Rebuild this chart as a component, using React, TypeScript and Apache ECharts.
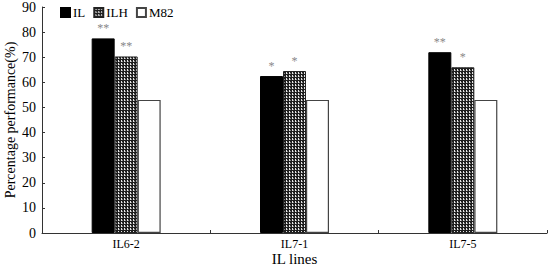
import React, { useEffect, useRef } from "react";
import * as echarts from "echarts";

const categories = ["IL6-2", "IL7-1", "IL7-5"];
const ilValues = [77.5, 62.5, 72];
const ilhValues = [70.3, 64.5, 66];
const m82Values = [53, 53, 53];
const ilSig = ["**", "*", "**"];
const ilhSig = ["**", "*", "*"];
const yTicks = { min: 0, max: 90, interval: 10 };

const FONT = "Liberation Serif";

function makePattern(): HTMLCanvasElement {
  const c = document.createElement("canvas");
  c.width = 3;
  c.height = 3;
  const ctx = c.getContext("2d")!;
  ctx.fillStyle = "#1e1e1e";
  ctx.fillRect(0, 0, 3, 3);
  ctx.fillStyle = "#e6e6e6";
  ctx.fillRect(1, 0, 1, 2);
  ctx.fillStyle = "#888";
  ctx.fillRect(2, 1, 1, 1);
  return c;
}

export default function App() {
  const ref = useRef<HTMLDivElement>(null);
  useEffect(() => {
    if (!ref.current) return;
    const chart = echarts.init(ref.current, undefined, { renderer: "svg" });
    const pattern = makePattern();
    const sigLabel = (arr: string[]) => ({
      show: true,
      position: "top" as const,
      distance: 4,
      color: "#888",
      fontSize: 12,
      fontFamily: FONT,
      formatter: (p: any) => arr[p.dataIndex],
    });
    chart.setOption({
      animation: false,
      textStyle: { fontFamily: FONT },
      grid: { left: 42, right: 1, top: 7, bottom: 33, containLabel: false, outerBoundsMode: "none" },
      legend: {
        left: 55,
        top: 1,
        itemWidth: 9,
        itemHeight: 9,
        itemGap: 8,
        textStyle: { fontFamily: FONT, fontSize: 13, color: "#000", padding: [0, 0, 0, -2] },
        data: [
          { name: "IL", icon: "rect" },
          { name: "ILH", icon: "rect" },
          { name: "M82", icon: "rect" },
        ],
      },
      xAxis: {
        type: "category",
        data: categories,
        name: "IL lines",
        nameLocation: "middle",
        nameGap: 18,
        nameMoveOverlap: false,
        nameTextStyle: { fontFamily: FONT, fontSize: 15, lineHeight: 15, color: "#000" },
        axisLine: { lineStyle: { color: "#333", width: 1 } },
        axisTick: { show: true, inside: true, length: 3, alignWithLabel: false, lineStyle: { color: "#333" } },
        axisLabel: { fontFamily: FONT, fontSize: 12, lineHeight: 12, color: "#000", margin: 5 },
        splitLine: { show: false },
      },
      yAxis: {
        type: "value",
        min: yTicks.min,
        max: yTicks.max,
        interval: yTicks.interval,
        name: "Percentage performance(%)",
        nameLocation: "middle",
        nameGap: 25,
        nameMoveOverlap: false,
        nameTextStyle: { fontFamily: FONT, fontSize: 14, color: "#000" },
        axisLine: { show: true, lineStyle: { color: "#333", width: 1 } },
        axisTick: { show: true, inside: true, length: 3, lineStyle: { color: "#333" } },
        axisLabel: { fontFamily: FONT, fontSize: 14, color: "#000", margin: 6 },
        splitLine: { show: false },
      },
      series: [
        {
          name: "IL",
          type: "bar",
          data: ilValues,
          barWidth: 23,
          barGap: "0%",
          itemStyle: { color: "#000", borderColor: "#000", borderWidth: 1 },
          label: sigLabel(ilSig),
        },
        {
          name: "ILH",
          type: "bar",
          data: ilhValues,
          barWidth: 23,
          barGap: "0%",
          itemStyle: {
            color: { image: pattern, repeat: "repeat" },
            borderColor: "#222",
            borderWidth: 1,
          },
          label: sigLabel(ilhSig),
        },
        {
          name: "M82",
          type: "bar",
          data: m82Values,
          barWidth: 23,
          barGap: "0%",
          itemStyle: { color: "#fff", borderColor: "#444", borderWidth: 1.2 },
        },
      ],
    });
    return () => chart.dispose();
  }, []);
  return (
    <div
      ref={ref}
      style={{ position: "absolute", left: 0, top: 0, width: 548, height: 266 }}
    />
  );
}
